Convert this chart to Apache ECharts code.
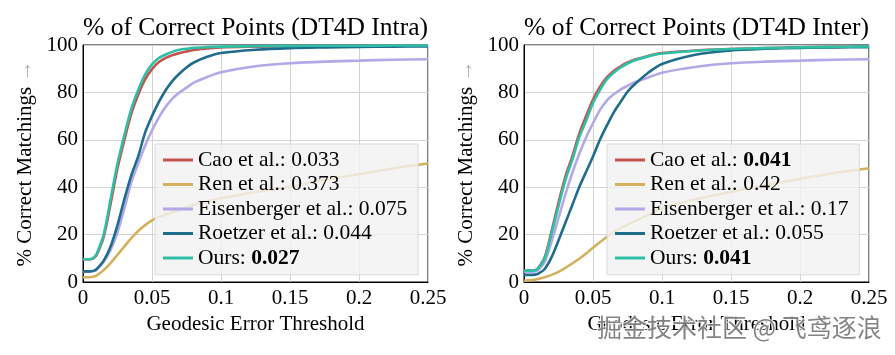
<!DOCTYPE html>
<html><head><meta charset="utf-8">
<script src="https://cdn.jsdelivr.net/npm/echarts@6/dist/echarts.min.js"></script>
<style>html,body{margin:0;padding:0;background:#fff}#c{width:895px;height:355px}</style>
</head><body><div id="c"></div>
<script>
// Shared geodesic error thresholds (x samples)
const thresholds = [0, 0.005, 0.008, 0.01, 0.015, 0.02, 0.025, 0.03, 0.035, 0.04, 0.045, 0.05, 0.055, 0.06, 0.065, 0.07, 0.075, 0.08, 0.09, 0.1, 0.125, 0.15, 0.175, 0.2, 0.225, 0.25];
const xTicks = [0, 0.05, 0.1, 0.15, 0.2, 0.25];
const yTicks = [0, 20, 40, 60, 80, 100];

const methods = ['Cao et al.', 'Ren et al.', 'Eisenberger et al.', 'Roetzer et al.', 'Ours'];
const titles = ['% of Correct Points (DT4D Intra)', '% of Correct Points (DT4D Inter)'];

// DT4D Intra
const intraCao     = [9.6, 9.6, 10.2, 11.5, 19, 33, 48, 60, 71, 79, 85.5, 89.8, 92.8, 94.6, 95.8, 96.6, 97.3, 97.9, 98.5, 99, 99.3, 99.5, 99.6, 99.6, 99.7, 99.7];
const intraRen     = [2, 2, 2.3, 2.8, 5, 8, 11.5, 15, 18.5, 21.5, 24, 26, 27.5, 28.5, 29.5, 30.5, 31.5, 32.5, 34, 35.3, 38, 40.2, 43, 45.5, 48, 50];
const intraEisen   = [4.3, 4.3, 4.6, 5.3, 8.5, 13.5, 21, 31, 42, 50, 57.5, 64, 69.5, 74, 77.5, 80, 82, 84, 86.5, 88.5, 91, 92.3, 93, 93.4, 93.8, 94];
const intraRoetzer = [4.5, 4.5, 4.8, 5.5, 9, 15, 24, 35, 45, 53, 63, 70, 76, 81, 85, 88, 90.5, 92.5, 95, 96.6, 98, 98.7, 99, 99.2, 99.3, 99.4];
const intraOurs    = [9.6, 9.6, 10.3, 12, 20, 35, 50, 62, 73, 81, 87.5, 91.8, 94.5, 96, 97.2, 98, 98.4, 98.8, 99.1, 99.3, 99.5, 99.6, 99.7, 99.7, 99.8, 99.8];
const intraScores  = ['0.033', '0.373', '0.075', '0.044', '0.027'];
const intraBest    = [false, false, false, false, true];

// DT4D Inter
const interCao     = [4.8, 4.8, 5, 5.7, 10.5, 21.5, 33.5, 44.5, 53, 62.5, 70, 77, 82.3, 86.3, 89, 91, 92.6, 93.8, 95.4, 96.6, 97.7, 98.3, 98.7, 99, 99.2, 99.4];
const interRen     = [0.5, 0.8, 1, 1.3, 2, 3, 4.3, 6, 7.8, 9.8, 12, 14.5, 16.8, 19, 21, 22.7, 24.2, 25.6, 28.3, 31, 35, 38, 40.8, 43.5, 46, 48];
const interEisen   = [4.3, 4.3, 4.5, 4.9, 8.5, 17, 27, 37, 46, 54, 61, 67, 72.5, 76.5, 79.2, 81.2, 82.8, 84.2, 86.3, 88.3, 90.8, 92.3, 93, 93.4, 93.8, 94];
const interRoetzer = [3, 3, 3.1, 3.4, 5.5, 10.5, 17.5, 25, 32.5, 40, 46.5, 53, 60, 66, 71.5, 76, 80.3, 83.3, 88.3, 92, 96, 97.7, 98.4, 98.8, 99, 99.1];
const interOurs    = [4.8, 4.8, 5, 5.5, 10, 20.5, 32, 43, 51.5, 61, 68, 75.5, 81, 85.5, 88.3, 90.5, 92.2, 93.5, 95.2, 96.4, 97.6, 98.3, 98.7, 99, 99.2, 99.4];
const interScores  = ['0.041', '0.42', '0.17', '0.055', '0.041'];
const interBest    = [true, false, false, false, true];

const colors = ['#c4524e', '#d4b15c', '#b5a8e8', '#1f6c8c', '#2ec0a6'];
const FONT = "'Liberation Serif', 'DejaVu Serif', serif";

const panels = [
  {vals: [intraCao, intraRen, intraEisen, intraRoetzer, intraOurs], scores: intraScores, best: intraBest},
  {vals: [interCao, interRen, interEisen, interRoetzer, interOurs], scores: interScores, best: interBest}
];
const gridPos = [{left: 83, top: 45, width: 345, height: 237}, {left: 524, top: 45, width: 345, height: 237}];
const legendPos = [{left: 155, top: 144}, {left: 607, top: 144}];

const chart = echarts.init(document.getElementById('c'), null, {renderer: 'canvas'});

const grid = gridPos.map(g => Object.assign({show: true, borderColor: '#000', borderWidth: 1, backgroundColor: 'transparent', containLabel: false}, g));

const xAxis = gridPos.map((g, i) => ({
  type: 'value', gridIndex: i, min: xTicks[0], max: xTicks[xTicks.length - 1], interval: 0.05,
  name: 'Geodesic Error Threshold', nameLocation: 'middle', nameGap: 30,
  nameTextStyle: {fontFamily: FONT, fontSize: 21, color: '#000'},
  axisLine: {show: true, onZero: false, lineStyle: {color: '#000', width: 1}},
  axisTick: {show: false},
  axisLabel: {fontFamily: FONT, fontSize: 21, color: '#000', margin: 6,
    formatter: v => String(+v.toFixed(2))},
  splitLine: {show: true, lineStyle: {color: '#d3d3d3', width: 1}}
}));

const yAxis = gridPos.map((g, i) => ({
  type: 'value', gridIndex: i, min: yTicks[0], max: yTicks[yTicks.length - 1], interval: 20,
  name: '{a|% Correct Matchings }{b|→}', nameLocation: 'middle', nameGap: 47, nameRotate: 90,
  nameTextStyle: {fontFamily: FONT, fontSize: 21, color: '#000',
    rich: {a: {fontFamily: FONT, fontSize: 21, color: '#000'}, b: {fontFamily: FONT, fontSize: 21, color: '#b0b0b0'}}},
  axisLine: {show: true, lineStyle: {color: '#000', width: 1}},
  axisTick: {show: false},
  axisLabel: {fontFamily: FONT, fontSize: 21, color: '#000', margin: 5},
  splitLine: {show: true, lineStyle: {color: '#d3d3d3', width: 1}}
}));

const series = [];
panels.forEach((p, gi) => {
  p.vals.forEach((ys, k) => {
    series.push({
      type: 'line', name: methods[k], xAxisIndex: gi, yAxisIndex: gi,
      data: thresholds.map((x, j) => [x, ys[j]]),
      smooth: 0.3, showSymbol: false, symbol: 'none',
      lineStyle: {color: colors[k], width: 2.6}, itemStyle: {color: colors[k]},
      z: 2 + k, animation: false
    });
  });
});

const legend = panels.map((p, gi) => ({
  orient: 'vertical', left: legendPos[gi].left, top: legendPos[gi].top,
  padding: [3.75, 11, 4.5, 8], itemGap: 0, itemWidth: 30, itemHeight: 3,
  icon: 'rect', data: methods.map((m, k) => ({name: m, itemStyle: {color: colors[k]}})),
  backgroundColor: 'rgba(242,242,242,0.82)', borderColor: 'rgba(215,215,215,0.9)', borderWidth: 1,
  selectedMode: false,
  textStyle: {fontFamily: FONT, fontSize: 21.5, color: '#000', lineHeight: 24.5,
    rich: {n: {fontFamily: FONT, fontSize: 21.5, color: '#000', lineHeight: 24.5},
           b: {fontFamily: FONT, fontSize: 21.5, color: '#000', fontWeight: 'bold', lineHeight: 24.5}}},
  formatter: name => {
    const k = methods.indexOf(name);
    const s = p.scores[k];
    return p.best[k] ? '{n|' + name + ': }{b|' + s + '}' : '{n|' + name + ': ' + s + '}';
  }
}));

const graphic = [
  {type: 'text', x: 255.5, y: 28.5, style: {text: titles[0], font: "25.5px " + FONT, fill: '#000', align: 'center', verticalAlign: 'middle'}},
  {type: 'text', x: 696.5, y: 28.5, style: {text: titles[1], font: "25.5px " + FONT, fill: '#000', align: 'center', verticalAlign: 'middle'}},
  {type: 'text', x: 597, y: 327, z: 100, style: {text: '掘金技术社区 @ 飞鸢逐浪', font: "25px 'Noto Sans CJK SC'", fill: 'rgba(80,80,80,0.7)', stroke: 'rgba(255,255,255,0.85)', lineWidth: 2, align: 'left', verticalAlign: 'middle'}}
];

chart.setOption({animation: false, backgroundColor: '#fff', grid, xAxis, yAxis, series, legend, graphic});
</script>
</body></html>
